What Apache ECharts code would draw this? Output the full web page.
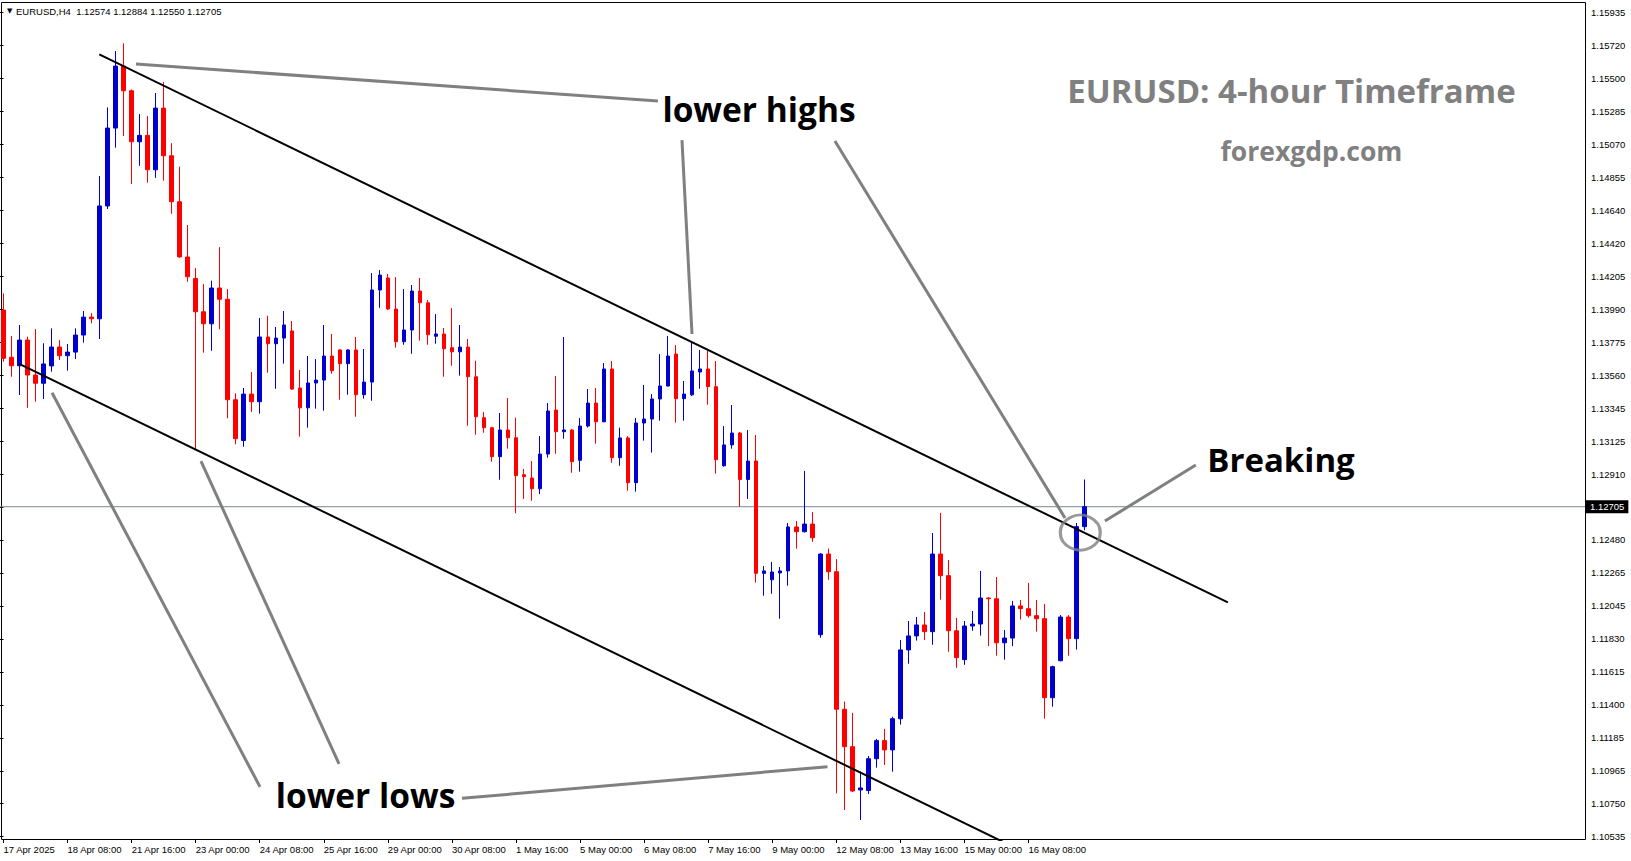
<!DOCTYPE html>
<html>
<head>
<meta charset="utf-8">
<script src="https://cdn.jsdelivr.net/npm/echarts@6/dist/echarts.min.js"></script>
<style>
html,body{margin:0;padding:0;background:#fff;}
#chart{width:1631px;height:861px;}
</style>
</head>
<body>
<div id="chart"></div>
<script>
// ---- DATA (EURUSD H4) ----
const symbolName = 'EURUSD,H4';
const firstBarUTC = Date.UTC(2025, 3, 17, 0, 0); // 17 Apr 2025 00:00
const opens = [
1.13997,1.13687,1.13631,1.13800,1.13570,1.13516,1.13630,1.13754,1.13697,1.13721,
1.13833,1.13951,1.13940,1.14681,1.15193,1.15600,1.15438,1.15103,1.15145,1.14919,
1.15324,1.15011,1.14709,1.14346,1.14205,1.13986,1.13907,1.14142,1.14068,1.13408,
1.13140,1.13445,1.13395,1.13820,1.13776,1.13813,1.13860,1.13485,1.13355,1.13518,
1.13537,1.13695,1.13735,1.13645,1.13735,1.13441,1.13524,1.14129,1.14208,1.14004,
1.13789,1.13866,1.14122,1.14045,1.13825,1.13840,1.13750,1.13723,1.13754,1.13559,
1.13290,1.13224,1.13034,1.13209,1.13158,1.12915,1.12894,1.12823,1.13051,1.13340,
1.13198,1.13209,1.13010,1.13235,1.13386,1.13263,1.13610,1.13027,1.13157,1.12863,
1.13255,1.13281,1.13413,1.13498,1.13708,1.13415,1.13440,1.13590,1.13610,1.13494,
1.12974,1.13111,1.13189,1.12884,1.13005,1.12267,1.12225,1.12270,1.12283,1.12572,
1.12541,1.12591,1.11864,1.12394,1.12278,1.11374,1.11128,1.10844,1.10840,1.11049,
1.11168,1.11107,1.11312,1.11764,1.11856,1.11928,1.11884,1.12394,1.12252,1.11890,
1.11700,1.11921,1.11934,1.12105,1.12100,1.11811,1.11842,1.12053,1.12035,1.11989,
1.11969,1.11450,1.11693,1.11980,1.11838,1.12574];
const highs = [
1.14107,1.13827,1.13899,1.13822,1.13872,1.13779,1.13877,1.13800,1.13774,1.13877,
1.13991,1.13976,1.14878,1.15329,1.15699,1.15750,1.15447,1.15285,1.15272,1.15423,
1.15495,1.15094,1.14939,1.14556,1.14273,1.14168,1.14190,1.14411,1.14135,1.13450,
1.13485,1.13590,1.13945,1.13960,1.13886,1.13991,1.13925,1.13603,1.13695,1.13675,
1.13899,1.13840,1.13740,1.13740,1.13820,1.13741,1.14240,1.14260,1.14234,1.14214,
1.14135,1.14162,1.14208,1.14063,1.13971,1.13879,1.14010,1.13899,1.13807,1.13664,
1.13327,1.13230,1.13321,1.13419,1.13290,1.12953,1.13005,1.13169,1.13386,1.13564,
1.13820,1.13216,1.13288,1.13478,1.13485,1.13649,1.13662,1.13224,1.13169,1.13288,
1.13505,1.13445,1.13708,1.13827,1.13767,1.13531,1.13794,1.13735,1.13728,1.13662,
1.13235,1.13373,1.13196,1.13209,1.13176,1.12315,1.12342,1.12309,1.12598,1.12611,
1.12940,1.12669,1.12400,1.12430,1.12361,1.11424,1.11350,1.10964,1.11067,1.11179,
1.11245,1.11325,1.11829,1.11954,1.11980,1.12013,1.12532,1.12664,1.12355,1.11974,
1.11954,1.12020,1.12283,1.12110,1.12243,1.11895,1.12086,1.12092,1.12204,1.12092,
1.12066,1.11660,1.11993,1.11993,1.12598,1.12884];
const lows = [
1.13658,1.13559,1.13439,1.13355,1.13395,1.13413,1.13592,1.13669,1.13599,1.13675,
1.13783,1.13910,1.13807,1.14661,1.15064,1.15141,1.14825,1.14945,1.14834,1.14866,
1.14847,1.14630,1.14341,1.14183,1.13084,1.13717,1.13730,1.13871,1.13286,1.13115,
1.13099,1.13327,1.13316,1.13585,1.13480,1.13645,1.13472,1.13165,1.13224,1.13349,
1.13336,1.13579,1.13408,1.13441,1.13296,1.13415,1.13401,1.14012,1.13997,1.13750,
1.13769,1.13710,1.13796,1.13769,1.13776,1.13559,1.13631,1.13566,1.13237,1.13178,
1.13191,1.13001,1.12882,1.13086,1.12662,1.12756,1.12744,1.12788,1.13027,1.13053,
1.13152,1.12928,1.12935,1.13225,1.13119,1.13260,1.12994,1.12974,1.12810,1.12804,
1.13139,1.13060,1.13270,1.13495,1.13257,1.13270,1.13432,1.13480,1.13375,1.12922,
1.12968,1.13086,1.12705,1.12756,1.12206,1.12120,1.12133,1.11969,1.12186,1.12429,
1.12535,1.12474,1.11844,1.12225,1.10822,1.10712,1.10830,1.10647,1.10817,1.10990,
1.11008,1.10964,1.11273,1.11673,1.11825,1.11829,1.11798,1.12094,1.11752,1.11646,
1.11666,1.11890,1.11858,1.11789,1.11726,1.11700,1.11789,1.11963,1.11976,1.11884,
1.11312,1.11391,1.11690,1.11726,1.11766,1.12550];
const closes = [
1.13680,1.13631,1.13800,1.13570,1.13516,1.13643,1.13754,1.13697,1.13721,1.13833,
1.13951,1.13940,1.14681,1.15193,1.15600,1.15438,1.15103,1.15145,1.14919,1.15324,
1.15011,1.14709,1.14346,1.14216,1.13986,1.13907,1.14142,1.14068,1.13408,1.13152,
1.13445,1.13395,1.13820,1.13776,1.13813,1.13899,1.13478,1.13355,1.13518,1.13537,
1.13695,1.13599,1.13645,1.13735,1.13441,1.13524,1.14129,1.14227,1.14004,1.13789,
1.13866,1.14122,1.14045,1.13835,1.13840,1.13743,1.13723,1.13754,1.13559,1.13296,
1.13224,1.13034,1.13209,1.13158,1.12909,1.12902,1.12823,1.13051,1.13334,1.13198,
1.13209,1.13001,1.13235,1.13386,1.13263,1.13610,1.13027,1.13157,1.12863,1.13255,
1.13281,1.13413,1.13498,1.13695,1.13415,1.13445,1.13597,1.13610,1.13494,1.13014,
1.13111,1.13189,1.12884,1.13005,1.12267,1.12283,1.12276,1.12283,1.12572,1.12541,
1.12591,1.12501,1.12394,1.12278,1.11374,1.11128,1.10837,1.10857,1.11049,1.11168,
1.11107,1.11312,1.11764,1.11856,1.11928,1.11884,1.12394,1.12252,1.11890,1.11713,
1.11921,1.11934,1.12105,1.12100,1.11811,1.11842,1.12053,1.12035,1.11989,1.11969,
1.11450,1.11654,1.11980,1.11838,1.12574,1.12705];

const xTickLabels = ['17 Apr 2025','18 Apr 08:00','21 Apr 16:00','23 Apr 00:00','24 Apr 08:00',
  '25 Apr 16:00','29 Apr 00:00','30 Apr 08:00','1 May 16:00','5 May 00:00','6 May 08:00',
  '7 May 16:00','9 May 00:00','12 May 08:00','13 May 16:00','15 May 00:00','16 May 08:00'];
const xTickEvery = 8; // one time label every 8 bars
// price scale labels from bottom to top ('' = slot hidden behind the price tag)
const yTickLabels = ['1.10535','1.10750','1.10965','1.11185','1.11400','1.11615','1.11830',
  '1.12045','1.12265','1.12480','','1.12910','1.13125','1.13345','1.13560','1.13775','1.13990',
  '1.14205','1.14420','1.14640','1.14855','1.15070','1.15285','1.15500','1.15720','1.15935'];
const lastPrice = 1.12705;

// drawn objects, in [bar index, price]
const upperChannel = [[11.96, 1.15677], [152.9, 1.12076]];
const lowerChannel = [[1.97, 1.13643], [126.5, 1.10460]];
const pointerLines = [
  [[16.55, 1.15614], [81.73, 1.15370]],
  [[84.73, 1.15114], [85.98, 1.13840]],
  [[103.83, 1.15108], [132.56, 1.12631]],
  [[137.55, 1.12611], [148.9, 1.12979]],
  [[6.06, 1.13454], [32.03, 1.10864]],
  [[24.66, 1.13005], [41.9, 1.11015]],
  [[57.25, 1.10789], [102.9, 1.10997]]
];
const breakCircle = [134.47, 1.12535];

// ---- BUILD ----
const totalSlots = 198;
const MONTHS = ['Jan','Feb','Mar','Apr','May','Jun','Jul','Aug','Sep','Oct','Nov','Dec'];
function buildTimes(n) {
  const out = []; let t = firstBarUTC;
  while (out.length < n) {
    const d = new Date(t); const wd = d.getUTCDay();
    if (wd !== 0 && wd !== 6) {
      out.push(d.getUTCDate() + ' ' + MONTHS[d.getUTCMonth()] + ' ' +
        String(d.getUTCHours()).padStart(2, '0') + ':00');
    }
    t += 4 * 3600 * 1000;
  }
  return out;
}
const categories = buildTimes(totalSlots);
const candleData = opens.map((o, i) => [o, closes[i], lows[i], highs[i]]);

const BLUE = '#0000CD', RED = '#FF0000', GRAY = '#808080';
const AXFONT = '"Liberation Sans", Arial, sans-serif';
const BIGFONT = '"Open Sans", "Noto Sans", sans-serif';
const showTick = (idx) => idx % xTickEvery === 0 && (idx / xTickEvery) < xTickLabels.length;

const lineSeries = (pts, color, width) => ({
  type: 'line', xAxisIndex: 1, yAxisIndex: 0, data: pts, symbol: 'none',
  lineStyle: { color: color, width: width }, silent: true, clip: true, z: 5, animation: false
});

const series = [
  {
    type: 'line', xAxisIndex: 1, yAxisIndex: 0, symbol: 'none', silent: true, z: 2,
    data: [[-0.5, lastPrice], [totalSlots - 0.5, lastPrice]],
    lineStyle: { color: '#778899', width: 1 },
    endLabel: {
      show: true, formatter: lastPrice.toFixed(5), backgroundColor: '#000', color: '#fff',
      fontFamily: AXFONT, fontSize: 9.5, padding: [2, 4, 1, 4], distance: 1
    }
  },
  {
    type: 'candlestick', xAxisIndex: 0, yAxisIndex: 0, data: candleData,
    barWidth: 4,
    itemStyle: { color: BLUE, color0: RED, borderColor: BLUE, borderColor0: RED, borderWidth: 1 },
    z: 3
  },
  lineSeries(upperChannel, '#000', 2),
  lineSeries(lowerChannel, '#000', 2)
];
pointerLines.forEach(p => series.push(lineSeries(p, GRAY, 3)));
series.push({
  type: 'scatter', xAxisIndex: 1, yAxisIndex: 0, data: [breakCircle], symbol: 'circle',
  symbolSize: [40, 35], silent: true, z: 6,
  itemStyle: { color: 'rgba(0,0,0,0)', borderColor: GRAY, borderWidth: 3 }
});

const option = {
  animation: false,
  backgroundColor: '#fff',
  grid: [
    { left: -0.5, right: 46, top: 2.5, bottom: 21, containLabel: false, outerBoundsMode: 'none', show: false },
    { left: -0.5, right: 46, top: 12.5, bottom: 24.3, containLabel: false, outerBoundsMode: 'none', show: false }
  ],
  xAxis: [
    {
      type: 'category', gridIndex: 0, data: categories, boundaryGap: true,
      axisLine: { show: false },
      axisTick: { show: true, interval: showTick, alignWithLabel: true, length: 3, lineStyle: { color: '#000' } },
      axisLabel: {
        interval: showTick, align: 'left', margin: 4, color: '#000', fontFamily: AXFONT, fontSize: 9.5,
        formatter: (v, idx) => showTick(idx) ? xTickLabels[idx / xTickEvery] : ''
      },
      splitLine: { show: false }
    },
    { type: 'value', gridIndex: 0, min: -0.5, max: totalSlots - 0.5, show: false },
    { type: 'value', gridIndex: 1, show: false }
  ],
  yAxis: [
    { type: 'value', gridIndex: 0, min: 1.10515, max: 1.16018, show: false, scale: true },
    {
      type: 'category', gridIndex: 1, position: 'right', data: yTickLabels, boundaryGap: false,
      axisLine: { show: false },
      axisTick: { show: true, length: 4, lineStyle: { color: '#000' } },
      axisLabel: { margin: 6, color: '#000', fontFamily: AXFONT, fontSize: 9.5 },
      splitLine: { show: false }
    }
  ],
  series: series,
  graphic: [
    { type: 'rect', shape: { x: 1.5, y: 2.5, width: 1584, height: 837 }, silent: true, z: 1,
      style: { fill: 'none', stroke: '#000', lineWidth: 1 } },
    { type: 'text', x: 7, y: 11, z: 100, style: { text: '\u25BC', fill: '#000', font: '7px "DejaVu Sans"', align: 'left', verticalAlign: 'middle' } },
    { type: 'text', x: 16, y: 11, z: 100, style: { text: symbolName + '  ' + [opens[135], highs[135], lows[135], closes[135]].map(v => v.toFixed(5)).join(' '), fill: '#000', font: '9.5px ' + AXFONT, align: 'left', verticalAlign: 'middle' } },
    { type: 'text', x: 1291.5, y: 90.5, z: 100, style: { text: 'EURUSD: 4-hour Timeframe', fill: '#808080', font: 'bold 33px ' + BIGFONT, align: 'center', verticalAlign: 'middle' } },
    { type: 'text', x: 1311.5, y: 151, z: 100, style: { text: 'forexgdp.com', fill: '#808080', font: 'bold 26.5px ' + BIGFONT, align: 'center', verticalAlign: 'middle' } },
    { type: 'text', x: 759, y: 109, z: 100, style: { text: 'lower highs', fill: '#000', font: 'bold 33.5px ' + BIGFONT, align: 'center', verticalAlign: 'middle' } },
    { type: 'text', x: 365.5, y: 795, z: 100, style: { text: 'lower lows', fill: '#000', font: 'bold 33.5px ' + BIGFONT, align: 'center', verticalAlign: 'middle' } },
    { type: 'text', x: 1281, y: 459, z: 100, style: { text: 'Breaking', fill: '#000', font: 'bold 33px ' + BIGFONT, align: 'center', verticalAlign: 'middle' } }
  ]
};

const chart = echarts.init(document.getElementById('chart'), null, { renderer: 'svg' });
chart.setOption(option);
</script>
</body>
</html>
